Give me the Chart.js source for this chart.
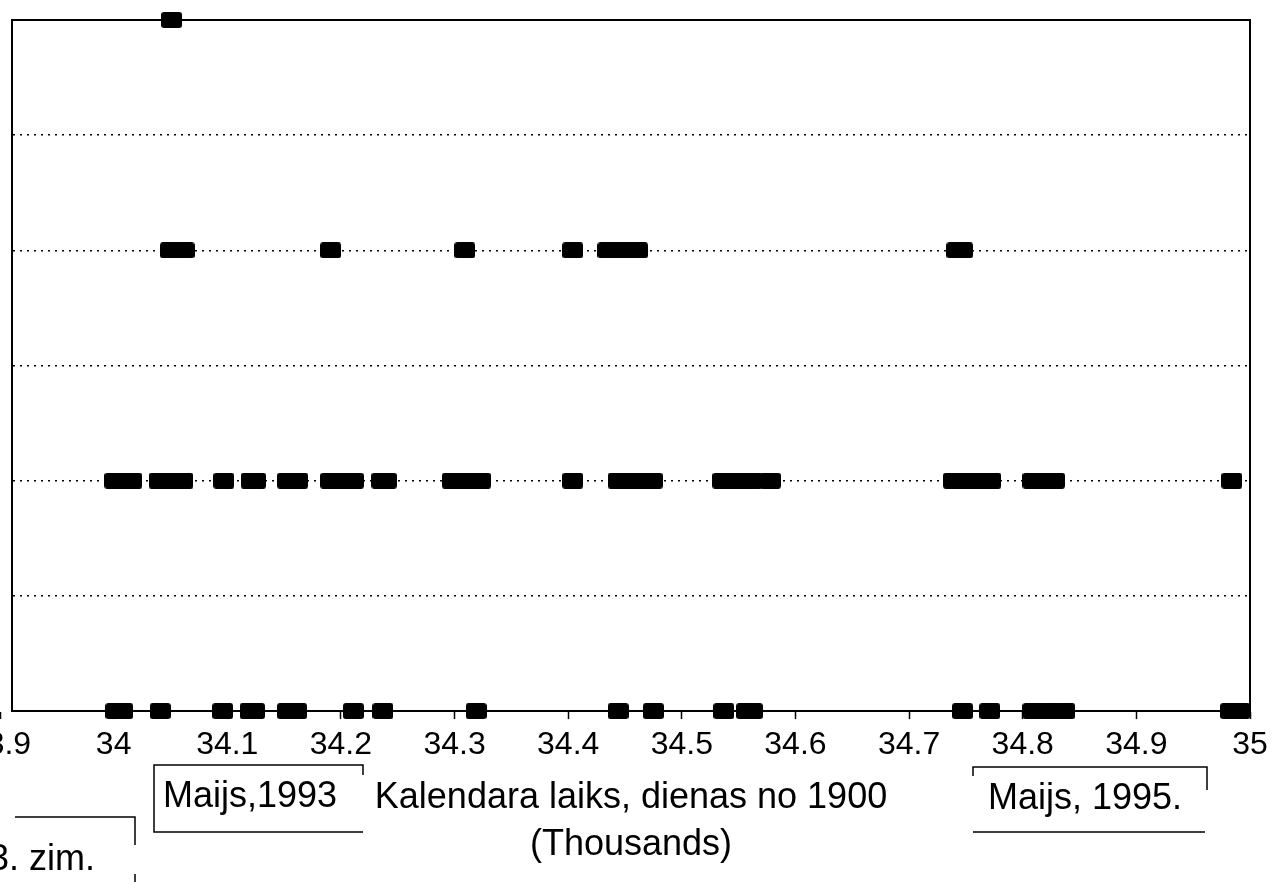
<!DOCTYPE html>
<html>
<head>
<meta charset="utf-8">
<script src="https://cdn.jsdelivr.net/npm/chart.js@4.4.0/dist/chart.umd.min.js"></script>
<style>
  html, body { margin: 0; padding: 0; background: #ffffff; }
  #c { display: block; }
</style>
</head>
<body>
<canvas id="c" width="1275" height="882"></canvas>
<script>
// ---- data (calendar time, thousands of days since 1900) ----
const level0Days = [34.002, 34.008, 34.041, 34.096, 34.120, 34.124, 34.153, 34.161, 34.211, 34.237,
  34.319, 34.444, 34.475, 34.537, 34.557, 34.562, 34.747, 34.771, 34.809, 34.823, 34.837, 34.983, 34.991];
const level2Days = [34.001, 34.009, 34.016, 34.040, 34.050, 34.061, 34.097, 34.121, 34.125, 34.153,
  34.162, 34.191, 34.201, 34.211, 34.236, 34.240, 34.298, 34.310, 34.323, 34.404, 34.444, 34.454,
  34.464, 34.474, 34.536, 34.549, 34.562, 34.578, 34.739, 34.750, 34.761, 34.772, 34.809, 34.819,
  34.828, 34.984];
const level4Days = [34.050, 34.062, 34.191, 34.309, 34.404, 34.435, 34.448, 34.461, 34.742, 34.747];
const level6Days = [34.051];
const levelValues = [0, 2, 4, 6];

const tickValues = [33.9, 34.0, 34.1, 34.2, 34.3, 34.4, 34.5, 34.6, 34.7, 34.8, 34.9, 35.0];
const tickLabels = ['33.9', '34', '34.1', '34.2', '34.3', '34.4', '34.5', '34.6', '34.7', '34.8', '34.9', '35'];
const axisTitle = ['Kalendara laiks, dienas no 1900', '(Thousands)'];
const noteLeft = 'Maijs,1993';
const noteRight = 'Maijs, 1995.';
const figureNote = '3. zim.';

// ---- styles ----
const FONT = '"Liberation Sans", Arial, Helvetica, sans-serif';

function makeMarker(w, h, r) {
  const c = document.createElement('canvas');
  c.width = w; c.height = h;
  const g = c.getContext('2d');
  g.fillStyle = '#000';
  g.beginPath();
  g.moveTo(r, 0); g.lineTo(w - r, 0); g.quadraticCurveTo(w, 0, w, r);
  g.lineTo(w, h - r); g.quadraticCurveTo(w, h, w - r, h);
  g.lineTo(r, h); g.quadraticCurveTo(0, h, 0, h - r);
  g.lineTo(0, r); g.quadraticCurveTo(0, 0, r, 0);
  g.closePath();
  g.fill();
  return c;
}
const marker = makeMarker(21, 16, 3);

const seriesDays = [level0Days, level2Days, level4Days, level6Days];
const datasets = seriesDays.map((arr, i) => ({
  data: arr.map(v => ({ x: v, y: levelValues[i] })),
  pointStyle: marker,
  pointRadius: 8,
  pointHoverRadius: 8,
  showLine: false,
  clip: false,
  backgroundColor: '#000',
  borderColor: '#000'
}));

const notesPlugin = {
  id: 'notes',
  afterDraw(chart) {
    const ctx = chart.ctx;
    ctx.save();
    ctx.strokeStyle = '#000';
    ctx.lineWidth = 1.5;
    ctx.fillStyle = '#000';
    ctx.font = '36px ' + FONT;
    ctx.textBaseline = 'middle';
    ctx.textAlign = 'left';
    // Maijs,1993 box
    ctx.beginPath();
    ctx.moveTo(363, 775); ctx.lineTo(363, 765); ctx.lineTo(154, 765);
    ctx.lineTo(154, 832); ctx.lineTo(363, 832);
    ctx.stroke();
    ctx.fillText(noteLeft, 163, 797);
    // Maijs, 1995. box
    ctx.beginPath();
    ctx.moveTo(973, 776); ctx.lineTo(973, 767); ctx.lineTo(1207, 767); ctx.lineTo(1207, 790);
    ctx.moveTo(973, 832); ctx.lineTo(1205, 832);
    ctx.stroke();
    ctx.fillText(noteRight, 988, 799);
    // 3. zim. box
    ctx.beginPath();
    ctx.moveTo(15, 817); ctx.lineTo(135, 817); ctx.lineTo(135, 845);
    ctx.moveTo(135, 874); ctx.lineTo(135, 882);
    ctx.stroke();
    ctx.fillText(figureNote, -11, 860);
    ctx.restore();
  }
};

new Chart(document.getElementById('c'), {
  type: 'scatter',
  data: { datasets },
  plugins: [notesPlugin],
  options: {
    responsive: false,
    animation: false,
    layout: { padding: { left: 12, right: 25, top: 20, bottom: 3 } },
    plugins: { legend: { display: false }, tooltip: { enabled: false } },
    scales: {
      x: {
        type: 'linear',
        position: 'bottom',
        min: 33.9 + 12 / 1136.4,
        max: 35.0,
        afterBuildTicks: (scale) => { scale.ticks = tickValues.map(v => ({ value: v })); },
        afterFit: (scale) => { scale.paddingLeft = 0; scale.paddingRight = 0; },
        ticks: {
          autoSkip: false,
          maxRotation: 0,
          padding: 7,
          color: '#000',
          font: { family: FONT, size: 32 },
          callback: (value, index) => tickLabels[index]
        },
        grid: { display: true, drawOnChartArea: false, drawTicks: true, tickLength: 8, tickColor: '#000', tickWidth: 1.5 },
        border: { display: true, color: '#000', width: 2 },
        title: {
          display: true,
          text: axisTitle,
          color: '#000',
          font: { family: FONT, size: 36, lineHeight: 1.3056 },
          padding: { top: 3, bottom: 10.5 }
        }
      },
      x2: {
        type: 'linear',
        position: 'top',
        min: 0, max: 1,
        ticks: { display: false },
        grid: { display: false, drawTicks: false },
        border: { display: true, color: '#000', width: 2 }
      },
      y: {
        type: 'linear',
        position: 'left',
        min: 0, max: 6,
        ticks: { display: false, stepSize: 1 },
        grid: {
          drawTicks: false,
          lineWidth: 1.5,
          color: (ctx) => (ctx.tick && (ctx.tick.value === 0 || ctx.tick.value === 6)) ? 'rgba(0,0,0,0)' : '#000'
        },
        border: { display: true, color: '#000', width: 2, dash: [2, 5] }
      },
      y2: {
        type: 'linear',
        position: 'right',
        min: 0, max: 1,
        ticks: { display: false },
        grid: { display: false, drawTicks: false },
        border: { display: true, color: '#000', width: 2 }
      }
    }
  }
});
</script>
</body>
</html>
